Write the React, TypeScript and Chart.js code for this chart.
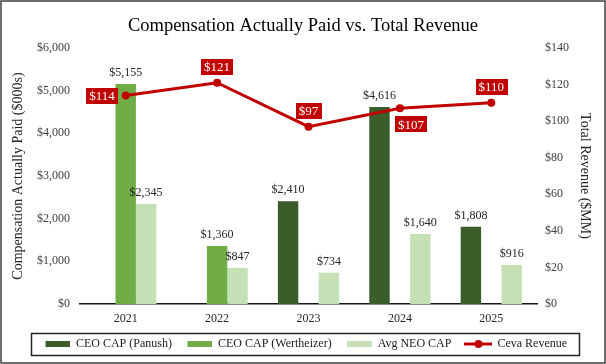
import React, { useEffect, useRef } from "react";
import { Chart, registerables } from "chart.js";

Chart.register(...registerables);

// ---- data ----
const years = ["2021", "2022", "2023", "2024", "2025"];
const ceoCapPanush: (number | null)[] = [null, null, 2410, 4616, 1808];
const ceoCapWertheizer: (number | null)[] = [5155, 1360, null, null, null];
const avgNeoCap: number[] = [2345, 847, 734, 1640, 916];
const cevaRevenue: number[] = [114, 121, 97, 107, 110];
const capAxisMax = 6000;
const capAxisStep = 1000;
const revenueAxisMax = 140;
const revenueAxisStep = 20;

// label placement for revenue callouts (style only)
const revenueLabelSide = ["left", "above", "above", "belowRight", "above"];

const SERIF = '"Liberation Serif", "Times New Roman", serif';
const DARK_GREEN = "#3A5D2A";
const MID_GREEN = "#70AD47";
const LIGHT_GREEN = "#C5E0B4";
const RED = "#C00000";

const fmtCap = (v: number) => "$" + v.toLocaleString("en-US");
const fmtRev = (v: number) => "$" + v;

// legend swatch canvases: 32px wide, mark drawn on the right part
function makeSwatch(color: string, line: boolean) {
  const c = document.createElement("canvas");
  c.width = 32;
  c.height = 10;
  const g = c.getContext("2d")!;
  if (!line) {
    g.fillStyle = color;
    g.fillRect(7, 2, 26, 6);
  } else {
    g.strokeStyle = color;
    g.lineWidth = 3;
    g.beginPath();
    g.moveTo(4, 5);
    g.lineTo(33, 5);
    g.stroke();
    g.fillStyle = color;
    g.beginPath();
    g.arc(18.5, 5, 4, 0, Math.PI * 2);
    g.fill();
  }
  return c;
}

const labelsPlugin = {
  id: "valueLabels",
  afterDatasetsDraw(chart: any) {
    const ctx = chart.ctx;
    ctx.save();
    chart.data.datasets.forEach((ds: any, di: number) => {
      const meta = chart.getDatasetMeta(di);
      if (meta.type === "bar") {
        ctx.font = `12px ${SERIF}`;
        ctx.fillStyle = "#262626";
        ctx.textAlign = "center";
        ctx.textBaseline = "middle";
        meta.data.forEach((el: any, i: number) => {
          const v = ds.data[i];
          if (v == null) return;
          ctx.fillText(fmtCap(v), el.x, el.y - 11);
        });
      } else if (meta.type === "line") {
        ctx.font = `13px ${SERIF}`;
        ctx.textAlign = "center";
        ctx.textBaseline = "middle";
        meta.data.forEach((el: any, i: number) => {
          const v = ds.data[i];
          if (v == null) return;
          const text = fmtRev(v);
          const w = ctx.measureText(text).width + 6;
          const h = 16;
          const side = revenueLabelSide[i];
          let cx = el.x;
          let cy = el.y;
          if (side === "left") {
            cx = el.x - 8 - w / 2;
          } else if (side === "above") {
            cy = el.y - 8 - h / 2;
          } else if (side === "belowRight") {
            cx = el.x - 5 + w / 2;
            cy = el.y + 8 + h / 2;
          }
          ctx.fillStyle = RED;
          ctx.fillRect(Math.round(cx - w / 2), Math.round(cy - h / 2), Math.round(w), h);
          ctx.fillStyle = "#FFFFFF";
          ctx.fillText(text, cx, cy + 1);
        });
      }
    });
    ctx.restore();
  },
};

const framePlugin = {
  id: "frames",
  afterDraw(chart: any) {
    const ctx = chart.ctx;
    ctx.save();
    ctx.strokeStyle = "#404040";
    ctx.lineWidth = 1.5;
    ctx.strokeRect(1, 1, chart.width - 2, chart.height - 2);
    const boxes = chart.legend?.legendHitBoxes || [];
    if (boxes.length) {
      let l = Infinity, r = -Infinity, t = Infinity, b = -Infinity;
      boxes.forEach((h: any) => {
        l = Math.min(l, h.left);
        r = Math.max(r, h.left + h.width);
        t = Math.min(t, h.top);
        b = Math.max(b, h.top + h.height);
      });
      ctx.strokeStyle = "#262626";
      ctx.lineWidth = 1.5;
      const x0 = Math.round(l - 8) + 0.5;
      const x1 = Math.round(r + 12) + 0.5;
      const y0 = Math.round(t - 5) + 0.5;
      const y1 = Math.round(b + 5) + 0.5;
      ctx.strokeRect(x0, y0, x1 - x0, y1 - y0);
    }
    ctx.restore();
  },
};

export default function App() {
  const canvasRef = useRef<HTMLCanvasElement | null>(null);

  useEffect(() => {
    if (!canvasRef.current) return;
    Chart.defaults.font.family = SERIF;
    const swatches = [
      makeSwatch(DARK_GREEN, false),
      makeSwatch(MID_GREEN, false),
      makeSwatch(LIGHT_GREEN, false),
      makeSwatch(RED, true),
    ];
    const chart = new Chart(canvasRef.current, {
      type: "bar",
      data: {
        labels: years,
        datasets: [
          {
            type: "bar",
            label: "CEO CAP (Panush)",
            data: ceoCapPanush,
            backgroundColor: DARK_GREEN,
            yAxisID: "y",
            order: 2,
            categoryPercentage: 0.67,
            barPercentage: 1,
          },
          {
            type: "bar",
            label: "CEO CAP (Wertheizer)",
            data: ceoCapWertheizer,
            backgroundColor: MID_GREEN,
            yAxisID: "y",
            order: 2,
            categoryPercentage: 0.67,
            barPercentage: 1,
          },
          {
            type: "bar",
            label: "Avg NEO CAP",
            data: avgNeoCap,
            backgroundColor: LIGHT_GREEN,
            yAxisID: "y",
            order: 2,
            categoryPercentage: 0.67,
            barPercentage: 1,
          },
          {
            type: "line",
            label: "Ceva Revenue",
            data: cevaRevenue,
            borderColor: RED,
            backgroundColor: RED,
            borderWidth: 3,
            pointRadius: 4,
            pointBackgroundColor: RED,
            pointBorderWidth: 0,
            yAxisID: "y1",
            order: 1,
            tension: 0,
          },
        ],
      } as any,
      options: {
        responsive: false,
        animation: false,
        layout: { padding: { top: 0, bottom: 4, left: 0, right: 0 } },
        plugins: {
          title: {
            display: true,
            text: "Compensation Actually Paid vs. Total Revenue",
            color: "#000000",
            font: { size: 18.5, weight: "normal", family: SERIF },
            padding: { top: 14.9, bottom: 10.9 },
          },
          legend: {
            position: "bottom",
            labels: {
              usePointStyle: true,
              pointStyleWidth: 31,
              boxHeight: 12,
              padding: 9,
              color: "#1a1a1a",
              font: { size: 12, family: SERIF, weight: "normal" },
              sort: (a: any, b: any) => a.datasetIndex - b.datasetIndex,
              generateLabels: (c: any) => {
                const items = Chart.defaults.plugins.legend.labels.generateLabels(c);
                return items.map((it: any) => ({ ...it, pointStyle: swatches[it.datasetIndex], lineWidth: 0 }));
              },
            },
          },
          tooltip: { enabled: false },
        },
        scales: {
          x: {
            grid: { display: false, drawTicks: false },
            border: { display: true, color: "#1a1a1a", width: 1.5 },
            ticks: { color: "#262626", font: { size: 12, family: SERIF }, padding: 8 },
            afterFit: (s: any) => {
              s.height = 25;
            },
          },
          y: {
            position: "left",
            min: 0,
            max: capAxisMax,
            grid: { display: false, drawTicks: false },
            border: { display: false },
            ticks: {
              stepSize: capAxisStep,
              color: "#404040",
              font: { size: 12, family: SERIF },
              padding: 10,
              callback: (v: any) => fmtCap(Number(v)),
            },
            title: {
              display: true,
              text: "Compensation Actually Paid ($000s)",
              color: "#262626",
              font: { size: 14, family: SERIF },
              padding: { top: 10, bottom: 0 },
            },
            afterFit: (s: any) => {
              s.width = 80;
            },
          },
          y1: {
            position: "right",
            min: 0,
            max: revenueAxisMax,
            grid: { display: false, drawTicks: false },
            border: { display: false },
            ticks: {
              stepSize: revenueAxisStep,
              color: "#404040",
              font: { size: 12, family: SERIF },
              padding: 8,
              callback: (v: any) => fmtRev(Number(v)),
            },
            title: {
              display: true,
              text: "Total Revenue ($MM)",
              color: "#262626",
              font: { size: 14, family: SERIF },
              padding: { top: 12.6, bottom: 0 },
            },
            afterFit: (s: any) => {
              s.width = 69;
            },
          },
        },
      } as any,
      plugins: [labelsPlugin, framePlugin],
    });
    return () => chart.destroy();
  }, []);

  return (
    <div style={{ position: "fixed", left: 0, top: 0, width: 606, height: 364, background: "#ffffff" }}>
      <canvas ref={canvasRef} width={606} height={364} style={{ display: "block", width: 606, height: 364 }} />
    </div>
  );
}
